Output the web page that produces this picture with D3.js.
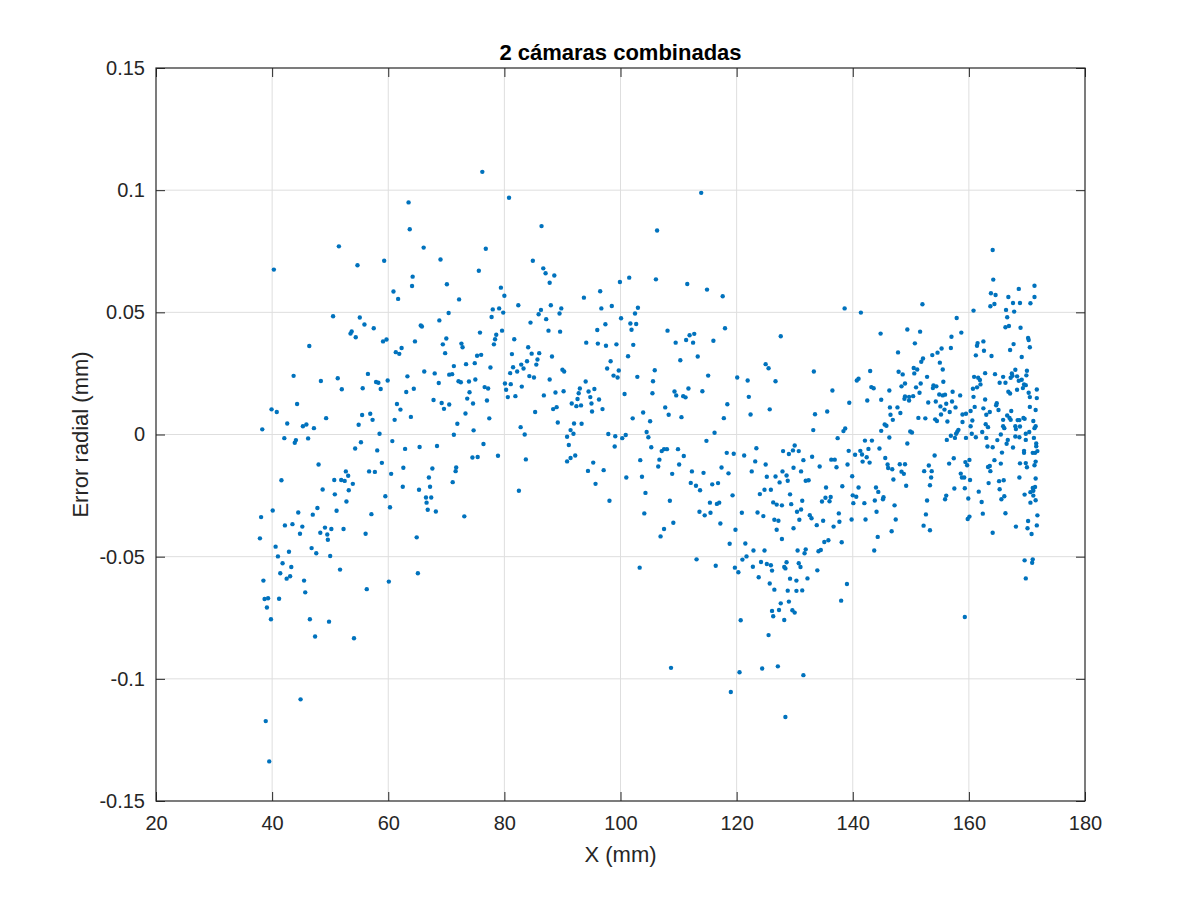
<!DOCTYPE html>
<html>
<head>
<meta charset="utf-8">
<script src="https://cdn.jsdelivr.net/npm/d3@7"></script>
<style>
  html, body { margin: 0; padding: 0; background: #fff; }
  text { font-family: "Liberation Sans", Arial, sans-serif; fill: #262626; }
</style>
</head>
<body>
<div id="chart"></div>
<script>
// values, [X (mm), error (mm)], grouped by region of the plot
const ptsA = [[63.5,0.095],[63.7,0.084],[51.5,0.077],[40.3,0.0675],[66.1,0.0765],[69.0,0.0716],[54.7,0.0693],[59.3,0.0711],[64.2,0.0646],[64.1,0.0608],[70.1,0.0615],[60.9,0.0585],[61.7,0.0555],[70.4,0.0497],[50.5,0.0484],[55.1,0.0479],[55.9,0.045],[57.5,0.0435],[53.7,0.0422],[53.5,0.0413],[54.4,0.0398],[46.4,0.0362],[59.1,0.0381],[59.7,0.0389],[65.6,0.0446],[65.8,0.0442],[68.8,0.0467],[64.6,0.0381],[70.0,0.0393],[69.4,0.0369],[69.8,0.0333],[61.3,0.0337],[61.9,0.033],[62.3,0.0354],[43.7,0.024],[48.4,0.0219],[51.3,0.023],[56.5,0.0248],[57.9,0.0215],[58.3,0.0212],[52.0,0.0185],[55.6,0.0189],[58.7,0.0186],[59.9,0.0221],[63.3,0.0238],[66.2,0.0258],[68.0,0.025],[68.7,0.0211],[63.1,0.0174],[64.4,0.0187],[70.5,0.0245],[39.9,0.0103],[40.8,0.0092],[44.3,0.0125],[49.3,0.0067],[42.6,0.0045],[45.3,0.0034],[45.9,0.0041],[47.2,0.0026],[38.3,0.0021],[55.5,0.008],[56.9,0.0085],[57.3,0.006],[54.9,0.004],[58.5,0.0003],[61.5,0.0125],[62.1,0.0102],[61.1,0.006],[63.9,0.0072],[67.8,0.0141],[69.2,0.0129],[69.6,0.0105],[70.5,0.0123],[42.1,-0.0015],[44.1,-0.0023],[43.9,-0.0034],[46.2,-0.0016],[54.3,-0.0057],[55.3,-0.0032],[58.1,-0.0065],[60.7,-0.0027],[62.9,-0.0059],[65.4,-0.0051],[68.4,-0.0047]];

const ptsB = [[48.0,-0.0123],[41.6,-0.0187],[50.7,-0.0186],[51.9,-0.0186],[52.5,-0.019],[53.1,-0.0169],[52.7,-0.0151],[53.9,-0.0202],[56.7,-0.0151],[57.7,-0.0153],[58.9,-0.0116],[60.5,-0.0161],[62.6,-0.0136],[67.6,-0.0139],[67.0,-0.0176],[67.2,-0.0214],[62.5,-0.0214],[65.3,-0.0226],[66.5,-0.0258],[67.4,-0.0258],[66.6,-0.0279],[66.8,-0.0308],[68.2,-0.0315],[59.5,-0.0253],[60.3,-0.0298],[48.7,-0.0225],[53.2,-0.0228],[50.8,-0.0245],[52.8,-0.0274],[40.1,-0.0311],[38.1,-0.0338],[44.5,-0.0319],[47.8,-0.0301],[47.0,-0.0328],[51.1,-0.0312],[57.1,-0.0326],[42.2,-0.0372],[43.5,-0.0367],[45.2,-0.0377],[44.8,-0.0406],[48.3,-0.0402],[49.1,-0.0381],[49.5,-0.0409],[50.2,-0.0387],[52.3,-0.0387],[49.6,-0.0431],[56.1,-0.0406],[64.9,-0.0421],[37.9,-0.0425],[40.6,-0.0459],[42.9,-0.048],[46.8,-0.0465],[47.6,-0.0486],[50.0,-0.0497],[41.0,-0.0499],[41.8,-0.0527],[43.3,-0.0542],[41.4,-0.0568],[43.1,-0.058],[42.5,-0.059],[38.5,-0.0598],[45.5,-0.0598],[51.7,-0.0553],[60.1,-0.0602],[65.1,-0.0568],[45.7,-0.0646],[38.7,-0.0673],[39.3,-0.067],[41.2,-0.0672],[39.1,-0.0708],[39.8,-0.0756],[46.5,-0.0756],[49.8,-0.0766],[47.4,-0.0827],[54.1,-0.0834],[56.3,-0.0633],[44.9,-0.1084],[38.9,-0.1173],[39.5,-0.1338]];

const ptsC = [[76.2,0.1075],[80.8,0.0969],[86.4,0.0853],[76.8,0.076],[75.6,0.067],[84.9,0.0711],[86.7,0.068],[87.1,0.066],[88.6,0.0651],[87.8,0.0621],[72.2,0.0553],[79.4,0.0601],[80.0,0.0568],[78.0,0.0512],[79.1,0.0516],[82.4,0.0529],[79.8,0.0499],[77.8,0.0481],[86.3,0.051],[85.9,0.0492],[88.0,0.0529],[89.8,0.0516],[89.5,0.0495],[87.2,0.0472],[93.7,0.056],[96.5,0.0586],[99.9,0.0624],[101.5,0.0642],[96.7,0.0516],[98.5,0.0526],[103.0,0.0519],[100.1,0.0476],[102.5,0.0495],[101.7,0.0454],[102.7,0.0452],[101.9,0.0429],[97.4,0.0451],[96.0,0.0428],[84.5,0.0458],[87.6,0.0425],[89.6,0.0421],[75.8,0.0417],[78.6,0.0408],[79.6,0.0425],[78.4,0.039],[81.7,0.039],[72.6,0.0372],[72.8,0.0357],[78.2,0.0369],[84.1,0.0357],[94.1,0.0376],[96.1,0.0372],[97.5,0.0363],[99.3,0.0369],[102.2,0.0367],[101.3,0.032],[75.3,0.0322],[76.0,0.0326],[81.3,0.0329],[84.7,0.0331],[86.0,0.0333],[88.2,0.0319],[83.9,0.03],[85.7,0.0307],[85.5,0.0286],[82.9,0.0286],[83.3,0.027],[81.5,0.0275],[82.2,0.0258],[81.0,0.0251],[73.4,0.0288],[74.9,0.0292],[77.6,0.0274],[71.3,0.028],[71.0,0.0247],[90.0,0.0265],[90.3,0.0258],[84.3,0.0239],[85.1,0.0233],[87.8,0.0225],[72.1,0.0218],[72.5,0.0214],[73.9,0.0217],[75.0,0.0225],[98.3,0.03],[97.7,0.027],[99.7,0.0262],[98.8,0.0241],[99.5,0.0233],[102.9,0.0236],[80.1,0.0209],[81.1,0.0206],[83.0,0.0196],[76.6,0.0194],[77.2,0.0188],[80.3,0.0183],[74.0,0.0173],[80.6,0.0153],[81.9,0.0157],[88.8,0.0172],[90.2,0.0177],[86.8,0.016],[94.0,0.0217],[93.0,0.0188],[92.8,0.0169],[94.5,0.0176],[95.5,0.0186],[94.8,0.0153],[96.3,0.0143],[92.6,0.0145],[91.6,0.0127],[92.4,0.0116],[93.2,0.0119],[95.0,0.0127],[95.1,0.0094],[96.9,0.0104],[100.7,0.0166],[102.1,0.0066],[103.9,0.009],[73.6,0.0147],[74.6,0.0127],[77.0,0.0139],[73.3,0.0086],[77.4,0.0066],[71.9,0.0044],[74.7,0.0017],[71.3,-0.0001],[88.4,0.0104],[89.0,0.0112],[85.3,0.0092],[82.8,0.003],[83.5,0.0],[89.2,0.0049],[92.0,0.0045],[93.3,0.0044],[91.4,0.0018],[90.8,-0.0009],[91.9,0.0003],[91.1,-0.0043],[92.2,-0.0086],[91.4,-0.0096],[97.9,0.0002],[99.1,-0.0007],[100.3,-0.0015],[100.9,-0.0002],[99.0,-0.0049],[103.4,-0.0105],[76.4,-0.0039],[74.5,-0.0094],[75.4,-0.0092],[78.9,-0.0087],[83.7,-0.0102],[90.8,-0.011],[71.7,-0.0135],[71.6,-0.015],[71.1,-0.0195],[73.1,-0.0335],[82.5,-0.023],[95.3,-0.0115],[94.4,-0.0149],[97.1,-0.0146],[95.7,-0.0202],[98.1,-0.0271],[101.0,-0.0176],[103.7,-0.0173],[103.3,-0.0545]];

const ptsD = [[113.9,0.0989],[106.3,0.0835],[106.1,0.0635],[111.5,0.0616],[114.9,0.0593],[117.6,0.0566],[108.1,0.0425],[109.5,0.0376],[111.3,0.0387],[111.9,0.0406],[112.7,0.0412],[112.5,0.0376],[116.0,0.0384],[118.0,0.0435],[110.3,0.0304],[113.3,0.0319],[105.9,0.0263],[105.6,0.0218],[115.1,0.0241],[105.5,0.0169],[109.3,0.0176],[109.6,0.016],[111.7,0.0188],[110.8,0.0157],[111.2,0.0152],[114.1,0.0177],[107.7,0.0111],[108.3,0.0081],[110.5,0.0071],[118.4,0.0124],[117.8,0.0067],[105.1,0.0054],[104.5,0.001],[104.8,-0.0011],[116.2,0.0007],[114.8,-0.0026],[105.3,-0.0052],[107.1,-0.0068],[107.5,-0.006],[108.0,-0.006],[109.9,-0.006],[110.9,-0.0088],[118.3,-0.0075],[119.5,-0.0079],[106.7,-0.0103],[127.6,0.0402],[120.1,0.0233],[121.9,0.0221],[125.0,0.0288],[125.5,0.0271],[126.7,0.0218],[133.3,0.0258],[136.5,0.018],[122.1,0.0154],[122.4,0.0082],[125.7,0.0103],[133.5,0.0083],[135.6,0.0094],[133.2,0.0018],[137.4,-0.0015],[121.3,-0.0086],[123.4,-0.0056],[128.0,-0.0068],[129.0,-0.008],[129.7,-0.0065],[130.0,-0.0045],[130.7,-0.0068],[133.0,-0.0091],[136.3,-0.0103],[136.9,-0.0103]];

const ptsE = [[104.3,-0.0239],[104.1,-0.0323],[106.5,-0.0131],[110.1,-0.0123],[108.9,-0.0161],[108.5,-0.0271],[109.1,-0.0361],[107.5,-0.0387],[106.9,-0.0417],[112.3,-0.0151],[114.3,-0.0157],[112.1,-0.0198],[113.0,-0.021],[113.7,-0.0228],[115.8,-0.0204],[116.8,-0.0199],[117.4,-0.0135],[118.6,-0.0159],[115.4,-0.0279],[116.6,-0.0284],[117.0,-0.0279],[113.6,-0.0316],[114.5,-0.0331],[115.5,-0.032],[117.2,-0.0364],[119.3,-0.0249],[119.8,-0.039],[118.8,-0.0447],[113.1,-0.0511],[116.4,-0.0537],[119.7,-0.0545],[120.3,-0.0564],[108.7,-0.0955],[120.5,-0.0973],[119.0,-0.1054],[120.7,-0.076],[125.5,-0.0821],[124.4,-0.0958],[127.1,-0.0949],[131.5,-0.0985],[128.4,-0.1156],[123.2,-0.011],[131.5,-0.0105],[125.0,-0.0123],[122.6,-0.0151],[125.2,-0.0173],[126.7,-0.0172],[127.9,-0.0151],[128.6,-0.0168],[128.8,-0.0189],[127.4,-0.0196],[129.8,-0.0136],[131.1,-0.0151],[134.3,-0.0131],[137.2,-0.0134],[131.9,-0.0189],[132.4,-0.0187],[135.4,-0.0217],[124.8,-0.0226],[125.9,-0.0226],[129.2,-0.0245],[124.0,-0.0244],[126.3,-0.0278],[126.9,-0.0287],[127.8,-0.029],[129.4,-0.0285],[131.3,-0.0271],[131.1,-0.0307],[130.4,-0.0316],[134.7,-0.0274],[135.3,-0.0259],[136.2,-0.0256],[136.0,-0.0273],[120.9,-0.032],[123.6,-0.0319],[124.6,-0.0334],[126.5,-0.0349],[127.2,-0.0353],[130.8,-0.0349],[132.6,-0.033],[132.9,-0.0343],[134.9,-0.0353],[137.6,-0.0323],[133.8,-0.0371],[136.7,-0.0377],[126.9,-0.039],[129.8,-0.0384],[127.8,-0.0428],[121.5,-0.0446],[122.9,-0.0475],[124.8,-0.0475],[130.5,-0.0475],[131.9,-0.047],[131.7,-0.0486],[134.1,-0.0478],[134.5,-0.0473],[135.1,-0.044],[135.8,-0.0433],[121.7,-0.0499],[121.0,-0.0512],[122.8,-0.0541],[124.2,-0.0522],[125.2,-0.053],[125.9,-0.0535],[126.1,-0.0557],[128.6,-0.0523],[128.2,-0.0542],[128.4,-0.0548],[130.7,-0.0527],[131.0,-0.0542],[133.9,-0.0556],[123.8,-0.0584],[125.7,-0.061],[126.5,-0.0635],[129.2,-0.059],[130.3,-0.0598],[132.2,-0.0589],[128.8,-0.0639],[130.3,-0.064],[131.3,-0.0638],[127.6,-0.0691],[129.0,-0.0684],[126.1,-0.0722],[126.3,-0.0744],[127.3,-0.0718],[129.6,-0.0719],[130.0,-0.0729],[128.2,-0.0759]];

const ptsF = [[138.6,0.0516],[141.4,0.0499],[152.0,0.0533],[144.8,0.0413],[149.4,0.043],[151.6,0.0421],[150.7,0.0373],[147.8,0.0336],[155.3,0.0352],[154.6,0.0335],[153.7,0.0325],[152.1,0.0311],[151.8,0.0298],[155.0,0.0294],[150.5,0.0272],[151.1,0.0266],[155.5,0.0266],[143.0,0.026],[147.9,0.0257],[148.6,0.0246],[150.6,0.025],[152.8,0.0236],[141.0,0.0228],[140.7,0.0221],[149.0,0.0209],[148.4,0.0197],[151.7,0.0209],[155.6,0.0216],[143.2,0.0194],[143.6,0.0189],[150.9,0.0193],[153.9,0.0201],[154.4,0.0197],[153.8,0.019],[146.3,0.018],[151.5,0.0171],[149.0,0.0156],[149.7,0.0154],[150.4,0.0157],[148.9,0.0146],[149.7,0.0139],[154.9,0.0164],[155.5,0.016],[139.4,0.013],[142.5,0.0139],[144.9,0.0142],[153.0,0.0131],[154.3,0.0135],[146.4,0.0111],[147.7,0.0111],[155.1,0.0115],[146.5,0.0081],[148.2,0.0088],[155.2,0.0082],[146.9,0.006],[151.3,0.0068],[152.5,0.0066],[154.2,0.0062],[154.5,0.0055],[145.5,0.0041],[145.8,0.0036],[138.7,0.0025],[138.4,0.0014],[144.9,0.0015],[149.9,0.0012],[150.2,0.0008],[146.3,-0.0012],[142.1,-0.0025],[143.3,-0.0025],[149.4,-0.0037],[139.3,-0.0067],[141.3,-0.0067],[142.7,-0.0059],[144.6,-0.0057],[140.4,-0.0083],[141.6,-0.0082],[142.4,-0.0093],[145.6,-0.0096],[154.1,-0.0086],[137.7,-0.0357],[139.1,-0.0123],[141.7,-0.0111],[142.9,-0.0115],[146.0,-0.0123],[146.1,-0.0137],[146.8,-0.0142],[148.1,-0.0122],[149.0,-0.0122],[148.4,-0.0152],[148.8,-0.0161],[147.0,-0.0184],[149.2,-0.021],[152.3,-0.015],[153.6,-0.015],[153.1,-0.0127],[153.5,-0.0176],[153.3,-0.0208],[139.9,-0.0171],[138.2,-0.0212],[141.0,-0.0217],[140.0,-0.0249],[140.6,-0.0255],[140.1,-0.0281],[142.0,-0.0281],[144.0,-0.0217],[144.4,-0.0235],[145.3,-0.0257],[145.2,-0.0265],[143.8,-0.027],[147.2,-0.029],[152.8,-0.027],[144.1,-0.0316],[152.6,-0.0327],[139.8,-0.0348],[142.2,-0.0348],[147.4,-0.0348],[152.2,-0.0373],[153.3,-0.0392],[146.7,-0.0396],[138.1,-0.0441],[144.3,-0.0419],[143.7,-0.0475],[139.0,-0.0612],[138.0,-0.068]];

const ptsG = [[164.1,0.0755],[164.2,0.0634],[163.8,0.0578],[164.6,0.0571],[163.7,0.0525],[164.4,0.0534],[166.8,0.0563],[168.6,0.0596],[171.3,0.0609],[171.3,0.0563],[167.6,0.0538],[168.8,0.0538],[170.6,0.0537],[160.8,0.0507],[166.4,0.051],[167.8,0.0503],[157.9,0.0477],[166.6,0.048],[158.7,0.0417],[157.0,0.04],[166.3,0.0439],[166.9,0.0444],[168.9,0.0437],[170.2,0.0395],[170.3,0.0387],[156.9,0.0354],[161.5,0.0374],[161.4,0.0363],[162.5,0.0381],[162.6,0.0343],[167.7,0.037],[167.1,0.0346],[170.5,0.0357],[161.2,0.0324],[163.9,0.0321],[169.1,0.0317],[160.9,0.0236],[161.6,0.0232],[161.9,0.0223],[162.0,0.0205],[162.8,0.0251],[164.5,0.0247],[165.9,0.0236],[165.3,0.0212],[166.3,0.0212],[167.2,0.0232],[167.4,0.025],[167.5,0.024],[168.0,0.0265],[168.3,0.0238],[170.0,0.0261],[169.9,0.0242],[168.6,0.022],[169.1,0.0224],[169.5,0.0205],[169.8,0.0202],[169.3,0.019],[168.3,0.0183],[160.7,0.0187],[161.4,0.0193],[166.8,0.0175],[167.1,0.0168],[170.3,0.0171],[171.7,0.0184],[157.2,0.0175],[158.5,0.016],[155.9,0.0163],[160.8,0.0154],[162.8,0.0143],[170.5,0.0153],[171.7,0.0149],[157.1,0.0135],[156.1,0.0126],[157.7,0.0111],[164.8,0.0128],[164.7,0.012],[161.0,0.0113],[162.5,0.0107],[170.5,0.0113],[171.5,0.01],[155.8,0.0102],[156.7,0.0092],[158.9,0.0082],[159.5,0.0085],[160.3,0.0096],[163.6,0.0092],[163.0,0.0081],[165.1,0.01],[167.3,0.0096],[166.6,0.0078],[167.0,0.0068],[165.9,0.006],[167.2,0.006],[168.4,0.0059],[168.7,0.0059],[169.4,0.0068],[169.6,0.0064],[171.1,0.0055],[156.3,0.0053],[158.9,0.0051],[160.6,0.0057],[160.3,0.0034],[162.9,0.0042],[163.3,0.003],[165.9,0.0034],[166.1,0.0026],[168.0,0.0034],[168.1,0.0022],[168.8,0.0033],[171.5,0.0034],[171.3,0.0026],[158.2,0.0019],[158.0,0.0011],[157.8,0.0003],[162.3,0.001],[160.5,0.0003],[165.5,0.0],[169.8,0.0003],[170.4,0.001],[156.9,-0.0005],[157.6,-0.0014],[159.5,-0.0014],[161.2,-0.0011],[163.0,-0.0014],[164.9,-0.0023],[166.7,-0.0022],[168.0,-0.0008],[168.7,-0.0011],[169.8,-0.0022],[171.2,-0.0014],[156.2,-0.0022]];

const ptsH = [[157.4,-0.0097],[156.6,-0.0119],[159.4,-0.0113],[159.7,-0.0126],[160.1,-0.0104],[158.6,-0.016],[158.8,-0.0176],[159.2,-0.0176],[160.2,-0.0186],[157.5,-0.0221],[159.3,-0.022],[156.1,-0.025],[155.9,-0.0265],[159.9,-0.0262],[161.7,-0.0234],[162.2,-0.0276],[162.4,-0.0324],[159.8,-0.0346],[160.1,-0.0336],[164.1,-0.0402],[166.3,-0.0322],[168.1,-0.0377],[163.2,-0.0049],[164.1,-0.0052],[165.7,-0.0074],[166.5,-0.0038],[167.6,-0.0053],[164.4,-0.0105],[163.3,-0.0133],[163.6,-0.0129],[163.7,-0.015],[165.5,-0.0119],[163.4,-0.0199],[165.2,-0.0191],[166.0,-0.0187],[165.3,-0.0224],[166.1,-0.0253],[165.6,-0.0265],[168.8,-0.0118],[169.8,-0.0117],[170.0,-0.0134],[171.3,-0.0126],[171.5,-0.0111],[169.5,-0.0067],[169.5,-0.0075],[171.0,-0.0075],[171.4,-0.0075],[171.8,-0.0068],[171.6,-0.0048],[171.6,-0.0037],[168.7,-0.0176],[171.5,-0.018],[171.0,-0.0219],[171.1,-0.023],[171.4,-0.0215],[170.6,-0.0236],[169.6,-0.0246],[171.1,-0.025],[171.5,-0.0269],[170.6,-0.0279],[171.8,-0.0331],[170.2,-0.0354],[171.7,-0.0372],[170.1,-0.0384],[170.8,-0.0407],[169.6,-0.0515],[171.0,-0.0511],[170.9,-0.0525],[169.8,-0.0589],[159.3,-0.0747]];

const xTicks = [20, 40, 60, 80, 100, 120, 140, 160, 180];
const yTicks = [-0.15, -0.1, -0.05, 0, 0.05, 0.1, 0.15];
const xDomain = [20, 180];
const yDomain = [-0.15, 0.15];

const title = '2 cámaras combinadas';
const xLabel = 'X (mm)';
const yLabel = 'Error radial (mm)';

const width = 1200;
const height = 900;
const margin = { top: 68, right: 115, bottom: 99, left: 156 };
const innerW = width - margin.left - margin.right;
const innerH = height - margin.top - margin.bottom;

const points = [].concat(ptsA, ptsB, ptsC, ptsD, ptsE, ptsF, ptsG, ptsH);

const svg = d3.select('#chart')
  .append('svg')
  .attr('width', width)
  .attr('height', height);

const g = svg.append('g')
  .attr('transform', `translate(${margin.left},${margin.top})`);

const x = d3.scaleLinear().domain(xDomain).range([0, innerW]);
const y = d3.scaleLinear().domain(yDomain).range([innerH, 0]);

// matlab style tick text: no trailing zeros, plain minus
const fmtY = (d) => (Math.abs(d) < 1e-9 ? '0' : String(+d.toFixed(2)));

// grid
g.append('g')
  .selectAll('line')
  .data(xTicks.slice(1, -1))
  .join('line')
  .attr('x1', (d) => x(d))
  .attr('x2', (d) => x(d))
  .attr('y1', 0)
  .attr('y2', innerH)
  .attr('stroke', '#dedede')
  .attr('stroke-width', 1);

g.append('g')
  .selectAll('line')
  .data(yTicks.slice(1, -1))
  .join('line')
  .attr('x1', 0)
  .attr('x2', innerW)
  .attr('y1', (d) => y(d))
  .attr('y2', (d) => y(d))
  .attr('stroke', '#dedede')
  .attr('stroke-width', 1);

// points
g.append('g')
  .selectAll('circle')
  .data(points)
  .join('circle')
  .attr('cx', (d) => x(d[0]))
  .attr('cy', (d) => y(d[1]))
  .attr('r', 2.2)
  .attr('fill', '#0072BD');

// axes, ticks pointing inward like matlab
const tickLen = 9;
const styleAxis = (sel, fontSize) => {
  sel.select('.domain').remove();
  sel.selectAll('.tick line').attr('stroke', '#262626').attr('stroke-width', 1);
  sel.selectAll('.tick text')
    .attr('fill', '#262626')
    .style('font-size', fontSize)
    .style('font-family', '"Liberation Sans", Arial, sans-serif');
};

g.append('g')
  .attr('transform', `translate(0,${innerH})`)
  .call(d3.axisBottom(x).tickValues(xTicks).tickSizeInner(-tickLen).tickSizeOuter(0).tickPadding(15))
  .call(styleAxis, '20px');

g.append('g')
  .call(d3.axisTop(x).tickValues(xTicks).tickSizeInner(-tickLen).tickSizeOuter(0).tickFormat(''))
  .call(styleAxis, '20px');

g.append('g')
  .call(d3.axisLeft(y).tickValues(yTicks).tickFormat(fmtY).tickSizeInner(-tickLen).tickSizeOuter(0).tickPadding(11))
  .call(styleAxis, '20px');

g.append('g')
  .attr('transform', `translate(${innerW},0)`)
  .call(d3.axisRight(y).tickValues(yTicks).tickSizeInner(-tickLen).tickSizeOuter(0).tickFormat(''))
  .call(styleAxis, '20px');

// box
g.append('rect')
  .attr('x', 0)
  .attr('y', 0)
  .attr('width', innerW)
  .attr('height', innerH)
  .attr('fill', 'none')
  .attr('stroke', '#262626')
  .attr('stroke-width', 1.2);

// labels
svg.append('text')
  .attr('x', margin.left + innerW / 2)
  .attr('y', 60)
  .attr('text-anchor', 'middle')
  .style('font-size', '22px')
  .style('font-weight', 'bold')
  .style('fill', '#000')
  .text(title);

svg.append('text')
  .attr('x', margin.left + innerW / 2)
  .attr('y', 862)
  .attr('text-anchor', 'middle')
  .style('font-size', '22px')
  .text(xLabel);

svg.append('text')
  .attr('transform', `translate(88,${margin.top + innerH / 2}) rotate(-90)`)
  .attr('text-anchor', 'middle')
  .style('font-size', '22px')
  .text(yLabel);
</script>
</body>
</html>
